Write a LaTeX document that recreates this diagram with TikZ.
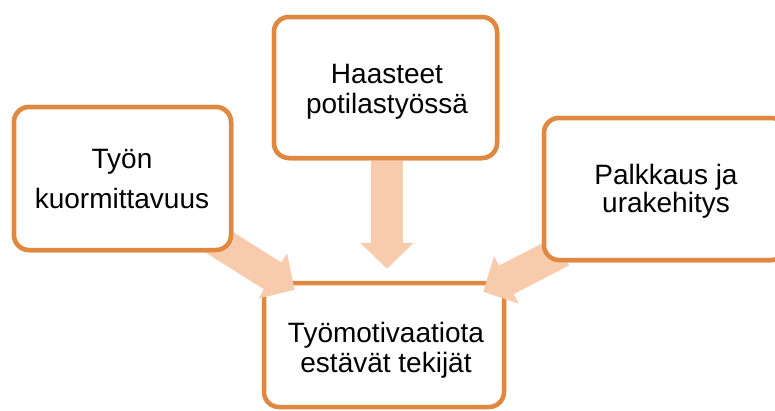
\documentclass[tikz,border=0pt]{standalone}
\usepackage{fontspec}
\setmainfont{Liberation Sans}
\usetikzlibrary{arrows.meta,calc}
\definecolor{boxorange}{RGB}{225,136,64}
\definecolor{peach}{RGB}{248,203,173}
\begin{document}
\begin{tikzpicture}[x=1pt,y=-1pt,
  box/.style={draw=boxorange,line width=4.5pt,fill=white,rounded corners=15pt,inner sep=0pt,rectangle},
  lbl/.style={anchor=base,align=center,inner sep=0pt,text=black},
  barrow/.style={draw=peach,line width=32pt,-{Triangle[width=52pt,length=26pt]}}]
\useasboundingbox (0,0) rectangle (775,410);
\clip (0,0) rectangle (775,410);
% bottom box
\node[box,minimum width=240pt,minimum height=124pt] (B) at (384,345) {};
% upper boxes (drawn again later over the arrow tails)
\node[box,minimum width=217pt,minimum height=143pt] (L) at (122.5,178.5) {};
\node[box,minimum width=223pt,minimum height=141pt] (T) at (385.5,87.5) {};
\node[box,minimum width=242pt,minimum height=142pt] (R) at (665,189) {};
% arrows
\draw[barrow] ($(T.south)+(1.5,0)$) -- ($(B.north)+(3,-12)$);
\draw[barrow] ($(L.south east)+(-31.5,-21)$) -- ($(B.north west)+(33,9)$);
\draw[barrow] ($(R.south west)+(20,-11)$) -- ($(B.north east)+(-23,11)$);
% redraw upper boxes over arrow tails
\node[box,minimum width=217pt,minimum height=143pt] (L2) at (L.center) {};
\node[box,minimum width=223pt,minimum height=141pt] (T2) at (T.center) {};
\node[box,minimum width=242pt,minimum height=142pt] (R2) at (R.center) {};
% texts
\node[lbl,font=\fontsize{28}{40}\selectfont] (Ltext) at (122,208) {Työn\\kuormittavuus};
\node[lbl,font=\fontsize{28}{30}\selectfont] (Ttext) at (387,113) {Haasteet\\potilastyössä};
\node[lbl,font=\fontsize{28}{28}\selectfont] (Rtext) at (666,212) {Palkkaus ja\\urakehitys};
\node[lbl,font=\fontsize{28}{30}\selectfont] (Btext) at (386,372) {Työmotivaatiota\\estävät tekijät};
\end{tikzpicture}
\end{document}
